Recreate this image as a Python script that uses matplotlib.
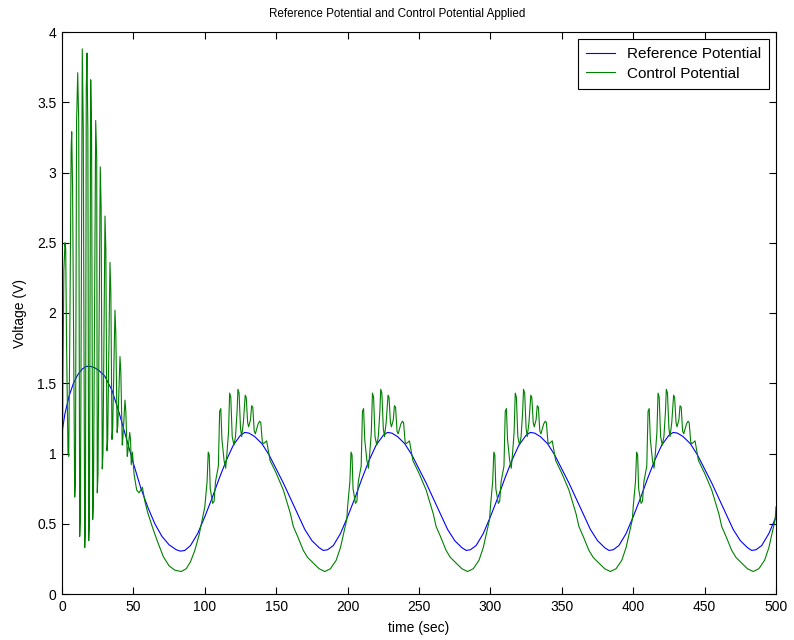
import numpy as np
import matplotlib
matplotlib.use("Agg")
import matplotlib.pyplot as plt
from matplotlib.ticker import FuncFormatter, MultipleLocator

plt.rcParams['font.family'] = ['Liberation Sans', 'DejaVu Sans']

# Reference potential: first (transient) period, then one steady period repeated
ref_first_t = [0, 2, 5, 8, 11, 14, 17, 20, 23, 26, 30, 35, 40, 45, 50, 55, 60,
               65, 70, 75, 80, 83, 86, 90, 95]
ref_first_v = [1.15, 1.28, 1.41, 1.50, 1.56, 1.60, 1.62, 1.62, 1.61, 1.59, 1.55,
               1.45, 1.29, 1.11, 0.93, 0.76, 0.62, 0.50, 0.41, 0.35, 0.315, 0.305,
               0.31, 0.345, 0.43]
ref_cycle_dt = [0, 5, 10, 15, 20, 25, 28, 31, 35, 40, 45, 50, 55, 60, 65, 70, 75,
                80, 83, 86, 90, 95]
ref_cycle_v = [0.55, 0.68, 0.82, 0.95, 1.06, 1.13, 1.15, 1.145, 1.12, 1.07, 0.99,
               0.89, 0.79, 0.68, 0.57, 0.46, 0.38, 0.33, 0.31, 0.315, 0.345, 0.43]
ref_end_v = 0.55

# Control potential: large start-up oscillation, then one steady period repeated
ctrl_first_t = [0, 0.6, 1.3, 2.1, 2.6, 3.2, 4.2, 4.7, 5.5, 6.4, 6.8, 7.4, 8.9, 9.4,
                10.2, 11.0, 11.7, 12.4, 12.9, 14.2, 14.9, 15.9, 16.4, 17.0, 17.5,
                18.1, 18.7, 19.2, 20.1, 20.7, 21.5, 22.0, 23.6, 24.3, 24.7, 25.2,
                26.8, 27.4, 28.2, 28.7, 30.1, 30.7, 31.5, 32.0, 33.6, 34.2, 35.0,
                35.5, 37.1, 37.7, 38.6, 39.1, 40.6, 41.2, 42.2, 42.7, 44.1, 44.7,
                45.7, 46.2, 47.4, 48.0, 48.5, 49.3, 50.5, 52.3, 54.0, 56.3, 58, 60,
                64, 67, 71, 75, 79, 83.5, 87, 90, 93, 96, 98]
ctrl_first_v = [0.0, 1.45, 2.30, 2.50, 2.45, 1.78, 1.00, 0.98, 1.90, 3.17, 3.29,
                2.90, 0.69, 0.80, 3.36, 3.71, 3.36, 0.41, 0.55, 3.88, 3.30, 0.33,
                0.45, 3.60, 3.85, 3.30, 0.38, 0.50, 3.66, 3.30, 0.53, 0.65, 3.37,
                3.10, 0.72, 0.85, 3.04, 2.75, 0.89, 1.00, 2.69, 2.45, 1.02, 1.10,
                2.36, 2.15, 1.10, 1.18, 2.02, 1.85, 1.15, 1.20, 1.69, 1.58, 1.06,
                1.12, 1.38, 1.30, 0.98, 1.02, 1.15, 1.10, 0.92, 1.01, 0.85, 0.74,
                0.72, 0.76, 0.66, 0.58, 0.455, 0.37, 0.265, 0.20, 0.17, 0.16, 0.18,
                0.23, 0.31, 0.42, 0.52]
ctrl_cycle_dt = [0, 1.6, 2.4, 3.1, 3.8, 5.5, 6.5, 7.5, 9.5, 10.4, 11.2, 12.0, 13.5,
                 14.6, 15.5, 16.6, 17.4, 18.2, 19.2, 20.4, 21.5, 22.6, 23.2, 24.0,
                 25.0, 25.8, 27.0, 28.3, 29.0, 30.0, 30.7, 32.0, 32.8, 33.6, 34.6,
                 35.4, 37.3, 38.4, 39.2, 40.3, 41.0, 42.3, 43.3, 44.5, 45.7, 50, 55,
                 60, 62, 65, 69, 72, 76, 80, 84, 88, 92, 95, 97, 99.4]
ctrl_cycle_v = [0.62, 0.80, 1.01, 0.99, 0.75, 0.645, 0.66, 0.80, 0.91, 1.30, 1.32,
                1.10, 0.95, 0.895, 1.00, 1.15, 1.43, 1.40, 1.12, 1.06, 1.12, 1.30,
                1.457, 1.43, 1.18, 1.12, 1.22, 1.415, 1.40, 1.22, 1.19, 1.24, 1.34,
                1.33, 1.16, 1.14, 1.21, 1.23, 1.22, 1.08, 1.07, 1.08, 1.09, 1.02,
                0.95, 0.86, 0.74, 0.57, 0.48, 0.41, 0.31, 0.26, 0.22, 0.18, 0.16,
                0.18, 0.24, 0.33, 0.42, 0.53]
ctrl_end_v = 0.62

period_starts = [100, 200, 300, 400]
t_end = 500


def assemble(first_t, first_v, cyc_dt, cyc_v, end_v):
    t = list(first_t)
    v = list(first_v)
    for start in period_starts:
        t += [start + d for d in cyc_dt]
        v += list(cyc_v)
    t.append(t_end)
    v.append(end_v)
    return np.array(t), np.array(v)


t_ref, v_ref = assemble(ref_first_t, ref_first_v, ref_cycle_dt, ref_cycle_v, ref_end_v)
t_ctrl, v_ctrl = assemble(ctrl_first_t, ctrl_first_v, ctrl_cycle_dt, ctrl_cycle_v, ctrl_end_v)

fig = plt.figure(figsize=(7.94, 6.4), dpi=100)
ax = fig.add_axes([62 / 794, 46 / 640, 714 / 794, 562 / 640])

ax.plot(t_ref, v_ref, color=(0, 0, 1), lw=0.8, label='Reference Potential')
ax.plot(t_ctrl, v_ctrl, color=(0, 0.5, 0), lw=0.8, label='Control Potential')

ax.set_xlim(0, 500)
ax.set_ylim(0, 4)
ax.xaxis.set_major_locator(MultipleLocator(50))
ax.yaxis.set_major_locator(MultipleLocator(0.5))
ax.yaxis.set_major_formatter(FuncFormatter(lambda y, _: f"{y:g}"))
ax.tick_params(direction='in', length=5, width=0.8, top=True, right=True,
               labelsize=10, pad=4)
for s in ax.spines.values():
    s.set_linewidth(0.8)
    s.set_color('black')

fig.text(397 / 794, 1 - 14 / 640, 'Reference Potential and Control Potential Applied',
         ha='center', va='center', fontsize=8.4)
ax.set_xlabel('time (sec)', fontsize=10, labelpad=5.5)
ax.set_ylabel('Voltage (V)', fontsize=10, labelpad=7)

leg = ax.legend(loc='upper right', fontsize=11, frameon=True, fancybox=False,
                framealpha=1, edgecolor='black', handlelength=1.9,
                handletextpad=0.75, borderpad=0.55, labelspacing=0.35,
                borderaxespad=0.45)
leg.get_frame().set_linewidth(0.8)

fig.savefig('out.png', dpi=100)
